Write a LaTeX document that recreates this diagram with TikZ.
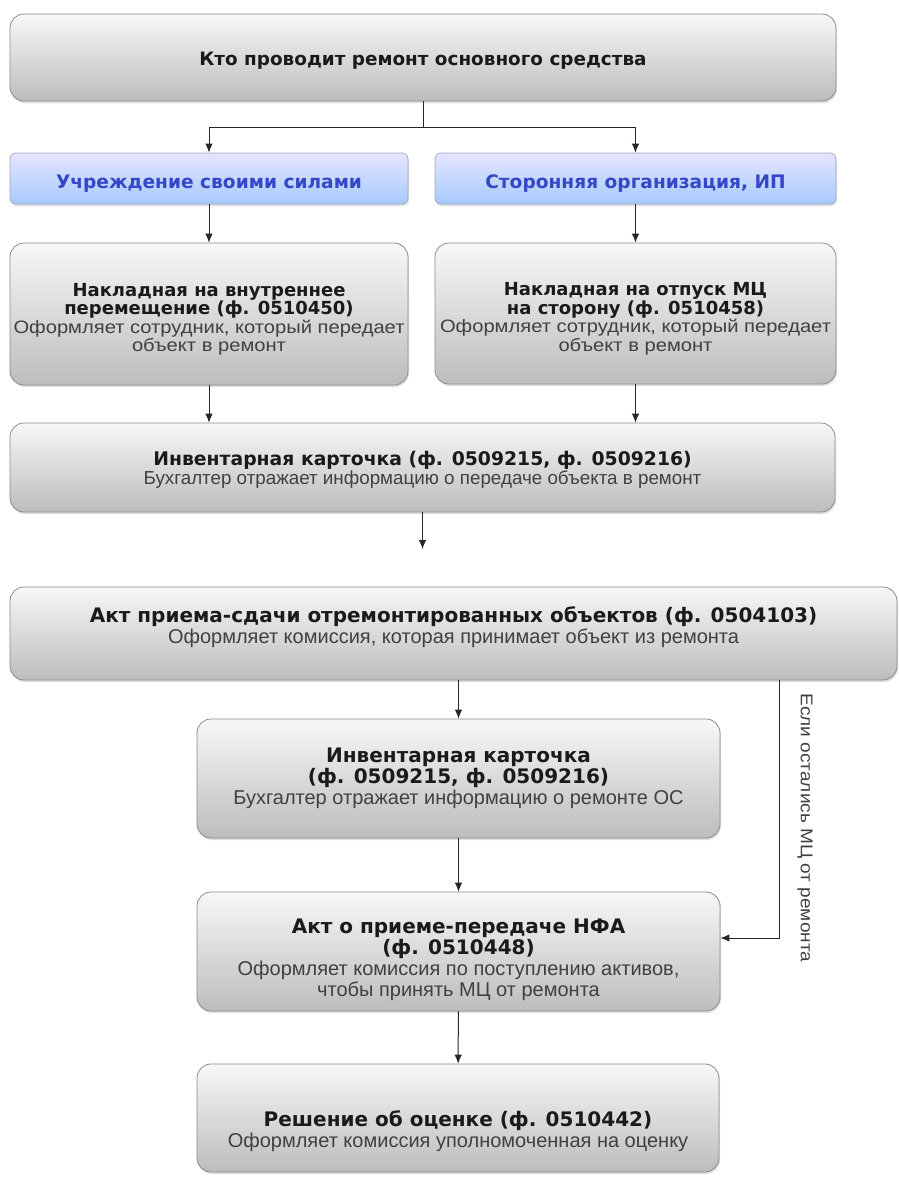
\documentclass[tikz,border=0pt]{standalone}
\usepackage{fontspec}
\setmainfont{Liberation Sans}
\newfontfamily\vfont{DejaVu Sans}
\newfontfamily\widefont{Liberation Sans}[FakeStretch=1.12]
\usetikzlibrary{shadows,arrows.meta}
\definecolor{titlecol}{HTML}{1A1A1A}
\definecolor{textcol}{HTML}{404040}
\definecolor{bluetext}{HTML}{3447C8}
\newcommand\hd[1]{{\vfont\bfseries\color{titlecol}#1}}
\newcommand\tx[1]{{\color{textcol}#1}}
\newcommand\txw[1]{{\widefont\color{textcol}#1}}
% struts to move a box text down or up
\newcommand\pushdown[1]{\rule{0pt}{#1}}
\newcommand\pushup[1]{\rule[-#1]{0pt}{#1}}
\tikzset{
  gbox/.style={draw=black!45, line width=.8pt, rounded corners=14pt,
    top color=black!3, bottom color=black!26,
    drop shadow={shadow xshift=1pt, shadow yshift=-2pt, opacity=.25},
    align=center, inner sep=0pt, font=\fontsize{18}{18.5}\selectfont},
  lbox/.style={gbox, font=\fontsize{20}{21}\selectfont},
  bbox/.style={gbox, rounded corners=6pt, draw=blue!30!black!35,
    top color=blue!10!white, bottom color=blue!60!cyan!35,
    font=\fontsize{18.6}{20}\selectfont\vfont\bfseries\color{bluetext}},
  arr/.style={-{Latex[length=9pt,width=7.5pt]}, line width=1pt, black!85},
  line/.style={line width=1pt, black!85}
}
\begin{document}
\begin{tikzpicture}[x=1pt,y=-1pt]
\useasboundingbox (0,0) rectangle (899,1178);
% top question
\node[gbox, font=\fontsize{18.4}{18.5}\selectfont, minimum width=826, minimum height=87] (who) at (423,57.5) {\hd{\pushdown{20pt}Кто проводит ремонт основного средства}};
% two ways
\node[bbox, minimum width=398, minimum height=51] (own) at (209,178.5) {\pushdown{24pt}Учреждение своими силами};
\node[bbox, minimum width=401, minimum height=51] (ext) at (635.5,178.5) {\pushdown{24pt}Сторонняя организация, ИП};
% waybills
\node[gbox, minimum width=398, minimum height=142] (doc1) at (209,314)
  {\hd{\pushdown{24pt}Накладная на внутреннее}\\\hd{перемещение (ф. 0510450)}\\\txw{Оформляет сотрудник, который передает}\\\txw{объект в ремонт}};
\node[gbox, minimum width=401, minimum height=141] (doc2) at (635.5,313.5)
  {\hd{\pushdown{24pt}Накладная на отпуск МЦ}\\\hd{на сторону (ф. 0510458)}\\\txw{Оформляет сотрудник, который передает}\\\txw{объект в ремонт}};
% inventory card
\node[gbox, font=\fontsize{18.8}{19}\selectfont, minimum width=825, minimum height=89] (card) at (422.5,467.5)
  {\hd{\pushdown{18pt}Инвентарная карточка (ф. 0509215, ф. 0509216)}\\\tx{Бухгалтер отражает информацию о передаче объекта в ремонт}};
\coordinate (gap) at (422.5,549);
% acceptance act
\node[lbox, minimum width=887, minimum height=93] (act) at (453.5,633.5)
  {\hd{Акт приема-сдачи отремонтированных объектов (ф. 0504103)}\\\tx{\pushup{16pt}Оформляет комиссия, которая принимает объект из ремонта}};
\node[lbox, minimum width=523, minimum height=119] (card2) at (458.5,778.5)
  {\hd{Инвентарная карточка}\\\hd{(ф. 0509215, ф. 0509216)}\\\tx{Бухгалтер отражает информацию о ремонте ОС}};
\node[lbox, minimum width=523, minimum height=119] (nfa) at (458.5,951.5)
  {\hd{\pushdown{31pt}Акт о приеме-передаче НФА}\\\hd{(ф. 0510448)}\\\tx{Оформляет комиссия по поступлению активов,}\\\tx{чтобы принять МЦ от ремонта}};
\node[lbox, minimum width=522, minimum height=108] (eval) at (458,1118)
  {\hd{\pushdown{42pt}Решение об оценке (ф. 0510442)}\\\tx{Оформляет комиссия уполномоченная на оценку}};
% connectors
\coordinate (split) at (423,127);
\draw[line] (who) -- (split);
\draw[arr] (split) -| (own);
\draw[arr] (split) -| (ext);
\draw[arr] (own) -- (doc1);
\draw[arr] (ext) -- (doc2);
\draw[arr] (doc1.south) -- (doc1.south |- card.north);
\draw[arr] (doc2.south) -- (doc2.south |- card.north);
\draw[arr] (card) -- (gap);
\draw[arr] (card2.north |- act.south) -- (card2.north);
\draw[arr] (card2) -- (nfa);
\draw[arr] (nfa) -- (eval);
\coordinate (bend) at (779,938);
\draw[arr] (act.south -| bend) -- (bend) -- (nfa.east |- bend);
\node[rotate=-90, font=\fontsize{17}{18}\selectfont\widefont, text=textcol] (note) at (805,828) {Если остались МЦ от ремонта};
\end{tikzpicture}
\end{document}
